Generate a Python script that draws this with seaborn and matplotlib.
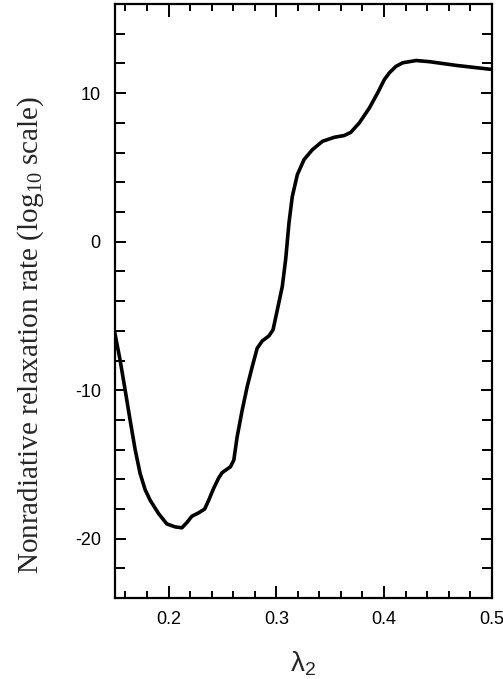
import numpy as np
import pandas as pd
import matplotlib
matplotlib.use("Agg")
import matplotlib.pyplot as plt
import seaborn as sns
from matplotlib.ticker import MultipleLocator

lam2 = [0.1499, 0.155, 0.1597, 0.1643, 0.169, 0.1736, 0.1783, 0.1829, 0.1907, 0.1984,
        0.2062, 0.2124, 0.2171, 0.2217, 0.228, 0.2335, 0.2373, 0.2419, 0.2466, 0.2497,
        0.2575, 0.2606, 0.2637, 0.2684, 0.273, 0.2777, 0.2823, 0.287, 0.2932, 0.297,
        0.301, 0.3056, 0.3088, 0.3118, 0.3149, 0.3196, 0.3258, 0.3336, 0.3429, 0.3538,
        0.3631, 0.3693, 0.3771, 0.3864, 0.3942, 0.4004, 0.405, 0.411, 0.4175, 0.430,
        0.4424, 0.4672, 0.500]
rate = [-6.05, -7.96, -9.98, -12.0, -14.0, -15.6, -16.7, -17.4, -18.3, -19.0,
        -19.2, -19.26, -18.9, -18.48, -18.25, -18.0, -17.4, -16.6, -15.9, -15.55,
        -15.15, -14.7, -13.13, -11.33, -9.76, -8.41, -7.17, -6.68, -6.34, -5.93,
        -4.59, -3.01, -1.15, 1.26, 3.05, 4.52, 5.53, 6.2, 6.76, 7.03,
        7.15, 7.37, 8.0, 9.0, 10.03, 10.92, 11.37, 11.8, 12.05, 12.2,
        12.12, 11.87, 11.6]

df = pd.DataFrame({"lam2": lam2, "rate": rate})

sns.set_style("ticks")
plt.rcParams["font.family"] = ["Liberation Sans", "DejaVu Sans"]
plt.rcParams["mathtext.fontset"] = "custom"
plt.rcParams["mathtext.rm"] = "Liberation Serif"
plt.rcParams["mathtext.it"] = "Liberation Serif:italic"
plt.rcParams["mathtext.sf"] = "Liberation Sans"

fig = plt.figure(figsize=(5.03, 6.79), dpi=100)
ax = fig.add_axes([0.228, 0.119, 0.7495, 0.875])

sns.lineplot(data=df, x="lam2", y="rate", ax=ax, color="black", linewidth=2.6,
             estimator=None, sort=False)
ax.lines[0].set_solid_joinstyle("round")

ax.set_xlim(0.15, 0.5)
ax.set_ylim(-24, 16)
ax.xaxis.set_minor_locator(MultipleLocator(0.02))
ax.yaxis.set_minor_locator(MultipleLocator(2))
ax.set_xticks([0.2, 0.3, 0.4, 0.5])
ax.set_xticklabels(["0.2", "0.3", "0.4", "0.5"])
ax.set_yticks([-20, -10, 0, 10])
ax.set_yticklabels(["-20", "-10", "0", "10"])

ax.tick_params(axis="both", which="both", direction="in", top=True, right=True,
               width=1.4, colors="black", labelsize=13)
ax.tick_params(axis="x", which="major", length=9, pad=9)
ax.tick_params(axis="x", which="minor", length=5)
ax.tick_params(axis="y", which="major", length=8, pad=10)
ax.tick_params(axis="y", which="minor", length=7)

for s in ax.spines.values():
    s.set_linewidth(1.6)
    s.set_color("black")

ax.set_xlabel(r"$\mathsf{\lambda_2}$", fontsize=20, labelpad=16)
ax.set_ylabel(r"Nonradiative relaxation rate (log$_{10}$ scale)", fontsize=21,
              family="Liberation Serif")
ax.yaxis.set_label_coords(-0.182, 0.443)

fig.savefig("out.png", dpi=100)
